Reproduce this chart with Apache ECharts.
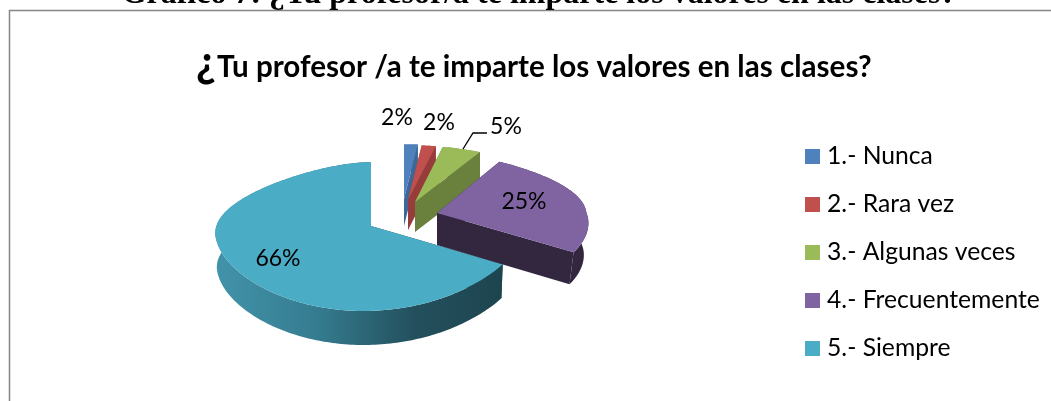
<!DOCTYPE html>
<html><head><meta charset="utf-8">
<style>html,body{margin:0;padding:0;background:#fff;overflow:hidden}#c{width:1051px;height:401px}</style>
<script src="https://cdn.jsdelivr.net/npm/echarts@6/dist/echarts.min.js"></script>
</head><body><div id="c"></div>
<script>
const categories = ['1.- Nunca','2.- Rara vez','3.- Algunas veces','4.- Frecuentemente','5.- Siempre'];
const values = [2,2,5,25,66];
const colors = ['#4F81BD','#C0504D','#9BBB59','#8064A2','#4BACC6'];
const sideColors = ['#3C6798','#963D3B','#6A803D','#33273F',null];
const offsets = [[33,-27],[37,-26],[44,-24],[66,-13],[0,0]];
const depths = [27,30,30,32,34];
const scaleX = [1,1,1,0.96,1];
const frontX = [0,0,0,0.15,0];
const bottomShrink = [1,1,1,0.97,0.99];
const scaleY = [0.85,0.85,0.87,0.93,1];
const skews = [0.03,0.03,0.03,0,0.03];
const labelPos = [[397,118],[439,123],[506,127],[524,202],[278,259]];
const leader = [[487,133],[473,133],[463,149]];
const CX=371, CY=226, RX=156, RY=73, K=0.14;

const total = values.reduce((a,b)=>a+b,0);
function angleStart(i){let s=0;for(let j=0;j<i;j++)s+=values[j];return s/total*Math.PI*2;}
function pt(i,th,dyExtra){
  const u=Math.sin(th), v=-Math.cos(th);
  const back = v<0.1 ? 1-0.25*(v-0.1)*(v-0.1) : 1;
  const fr = v>0 ? 1+frontX[i]*v : 1;
  let x = RX*u*back*scaleX[i]*fr;
  const y = RY*v/(1-K*v)*scaleY[i] - skews[i]*x;
  if(dyExtra) x*=bottomShrink[i];
  return [CX+offsets[i][0]+x, CY+offsets[i][1]+y+(dyExtra||0)];
}
function arc(i,a0,a1,d){
  const n=Math.max(2,Math.ceil((a1-a0)/0.02)),r=[];
  for(let k=0;k<=n;k++) r.push(pt(i,a0+(a1-a0)*k/n,d));
  return r;
}
function renderSlice(i){
  return function(params,api){
    const val = api.value(0);
    const a0 = angleStart(i), a1 = a0 + val/total*Math.PI*2;
    const d = depths[i];
    const apex=[CX+offsets[i][0],CY+offsets[i][1]];
    const apexB=[apex[0],apex[1]+d];
    const side = sideColors[i] || new echarts.graphic.LinearGradient(0,0,1,0,[
      {offset:0,color:'#4293AA'},{offset:0.35,color:'#357C90'},{offset:0.7,color:'#234F5C'},{offset:1,color:'#1D4550'}]);
    const startT=pt(i,a0), startB=pt(i,a0,d), endT=pt(i,a1), endB=pt(i,a1,d);
    const top=arc(i,a0,a1,0), bot=arc(i,a0,a1,d).reverse();
    const children=[
      {type:'polygon',shape:{points:[apex,startT,startB,apexB]},style:{fill:sideColors[i]||'#1D4550'}},
      {type:'polygon',shape:{points:top.concat(bot)},style:{fill:side}},
      {type:'polygon',shape:{points:[apex,endT,endB,apexB]},style:{fill:sideColors[i]||'#2F6F82'}},
      {type:'polygon',shape:{points:[apex].concat(top)},style:{fill:colors[i]}}
    ];
    return {type:'group',children};
  };
}
function renderLabels(params,api){
  const i=params.dataIndex;
  const kids=[{type:'text',style:{text:Math.round(api.value(0))+'%',x:labelPos[i][0],y:labelPos[i][1],
    align:'center',verticalAlign:'middle',font:'23px Lato, "Open Sans", sans-serif',fill:'#000'}}];
  if(i===2) kids.push({type:'polyline',shape:{points:leader},style:{stroke:'#000',lineWidth:1.3,fill:null}});
  return {type:'group',children:kids};
}
const order=[0,1,2,4,3];
const series = order.map(i=>({
  type:'custom',name:categories[i],coordinateSystem:'none',silent:true,
  itemStyle:{color:colors[i]},
  renderItem:renderSlice(i),data:[[values[i]]]
}));
series.push({type:'custom',name:'labels',coordinateSystem:'none',silent:true,z:5,
  renderItem:renderLabels,data:values.map(v=>[v])});

const chart=echarts.init(document.getElementById('c'),null,{renderer:'canvas'});
chart.setOption({
  animation:false,backgroundColor:'#fff',
  title:{text:'Tu profesor /a te imparte los valores en las clases?',left:212,top:47,
    textStyle:{fontFamily:'Lato',fontWeight:'bold',fontSize:29.6,color:'#000'}},
  legend:{data:categories,orient:'vertical',left:800,top:139,icon:'rect',itemWidth:15,itemHeight:15,itemGap:23,
    selectedMode:false,textStyle:{fontFamily:'Lato',fontSize:24.7,color:'#000',padding:[0,0,0,2]}},
  graphic:[
    {type:'rect',silent:true,z:-1,shape:{x:9.5,y:10.5,width:1100,height:430},style:{fill:'#fff',stroke:'#868686',lineWidth:1.5}},
    {type:'text',silent:true,z:10,style:{text:'¿',x:196,y:41,align:'left',verticalAlign:'top',font:'bold 44px Lato, sans-serif',fill:'#000'}},
    {type:'text',silent:true,z:10,style:{text:'Gráfico 7: ¿Tu profesor/a te imparte los valores en las clases?',x:539,y:11,
      align:'center',verticalAlign:'bottom',font:'bold 32px "Liberation Serif", serif',fill:'#000'}}
  ],
  series
});
</script></body></html>
